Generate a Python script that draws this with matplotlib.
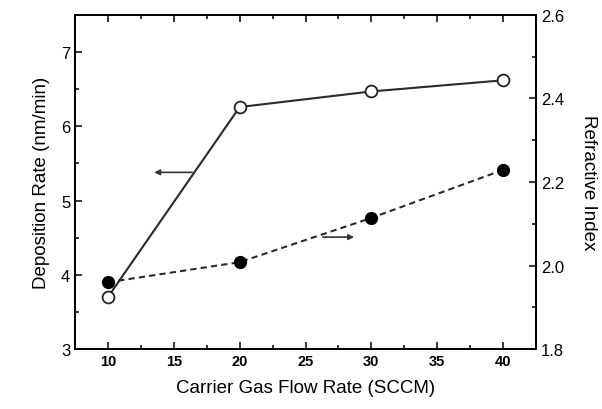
import matplotlib
matplotlib.use("Agg")
import matplotlib.pyplot as plt
from matplotlib.ticker import MultipleLocator

plt.rcParams["font.family"] = ["Liberation Sans", "DejaVu Sans"]

flow = [10, 20, 30, 40]
dep_rate = [3.70, 6.26, 6.47, 6.62]
ref_index = [1.96, 2.008, 2.114, 2.229]

fig = plt.figure(figsize=(6.02, 4.10), dpi=100)
ax = fig.add_axes([0.1246, 0.1463, 0.7658, 0.8147])
ax2 = ax.twinx()

ax.plot(flow, dep_rate, "-", color="#2a2a2a", lw=1.5, marker="o", ms=8.5,
        mfc="white", mec="#222222", mew=1.3, zorder=3)
ax2.plot(flow, ref_index, "--", color="#2a2a2a", lw=1.5, dashes=(3, 2), marker="o", ms=8.5,
         mfc="black", mec="black", zorder=3)

ax.set_xlim(7.5, 42.5)
ax.set_ylim(3, 7.5)
ax2.set_ylim(1.8, 2.6)

ax.xaxis.set_major_locator(MultipleLocator(5))
ax.xaxis.set_minor_locator(MultipleLocator(2.5))
ax.yaxis.set_major_locator(MultipleLocator(1))
ax.yaxis.set_minor_locator(MultipleLocator(0.5))
ax2.yaxis.set_major_locator(MultipleLocator(0.2))
ax2.yaxis.set_minor_locator(MultipleLocator(0.1))

ax.tick_params(which="both", direction="in", top=True, width=1.1)
ax.tick_params(axis="x", labelsize=10.5)
ax.tick_params(axis="y", labelsize=12)
ax.tick_params(which="major", length=5)
ax.tick_params(which="minor", length=3)
ax2.tick_params(which="both", direction="in", labelsize=12, width=1.1)
ax2.tick_params(which="major", length=5)
ax2.tick_params(which="minor", length=3)
for lab in ax.get_xticklabels():
    lab.set_fontweight("bold")

for a in (ax, ax2):
    for s in a.spines.values():
        s.set_linewidth(1.3)

ax.set_xlabel("Carrier Gas Flow Rate (SCCM)", fontsize=13.5, labelpad=8)
ax.set_ylabel("Deposition Rate (nm/min)", fontsize=13.5, labelpad=8)
ax2.set_ylabel("Refractive Index", fontsize=13.5, rotation=270, labelpad=24)

ax.annotate("", xy=(13.3, 5.38), xytext=(16.6, 5.38),
            arrowprops=dict(arrowstyle="-|>", color="#333333", lw=1.2, mutation_scale=8))
ax2.annotate("", xy=(28.9, 2.068), xytext=(26.1, 2.068),
             arrowprops=dict(arrowstyle="-|>", color="#333333", lw=1.2, mutation_scale=8))

fig.savefig("out.png", dpi=100)
